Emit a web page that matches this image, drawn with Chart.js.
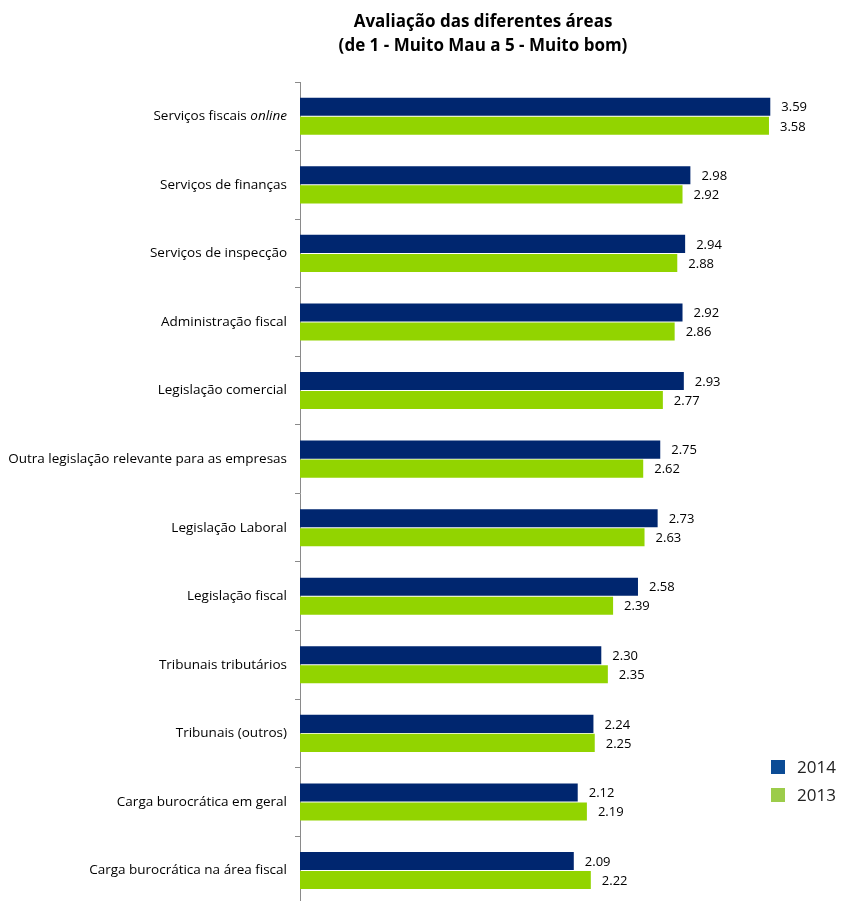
<!DOCTYPE html>
<html>
<head>
<meta charset="utf-8">
<script src="https://cdn.jsdelivr.net/npm/chart.js@4.4.1/dist/chart.umd.min.js"></script>
<style>
    html, body { margin: 0; padding: 0; background: #fff; overflow: hidden; }
    #wrap { position: relative; width: 841px; height: 901px; overflow: hidden; }
</style>
</head>
<body>
<div id="wrap"><canvas id="areas-chart"></canvas></div>
<script>
// data
const categories = [
    'Serviços fiscais online',
    'Serviços de finanças',
    'Serviços de inspecção',
    'Administração fiscal',
    'Legislação comercial',
    'Outra legislação relevante para as empresas',
    'Legislação Laboral',
    'Legislação fiscal',
    'Tribunais tributários',
    'Tribunais (outros)',
    'Carga burocrática em geral',
    'Carga burocrática na área fiscal'
];
const values2014 = [3.59, 2.98, 2.94, 2.92, 2.93, 2.75, 2.73, 2.58, 2.30, 2.24, 2.12, 2.09];
const values2013 = [3.58, 2.92, 2.88, 2.86, 2.77, 2.62, 2.63, 2.39, 2.35, 2.25, 2.19, 2.22];
const seriesNames = ['2014', '2013'];
const barColors = ['#00266f', '#92d400'];
const legendColors = ['#0b4b95', '#9ccc4a'];
const italicWords = ['online'];
const titleLines = ['Avaliação das diferentes áreas', '(de 1 - Muito Mau a 5 - Muito bom)'];

const FONT = '"Open Sans", "DejaVu Sans", sans-serif';

// category labels (with italic word), value labels, title, legend
const extrasPlugin = {
    id: 'extras',
    afterDraw(chart) {
        const ctx = chart.ctx;
        const yScale = chart.scales.y;
        ctx.save();

        // category labels
        ctx.fillStyle = '#000';
        ctx.textBaseline = 'middle';
        categories.forEach((label, i) => {
            const y = yScale.getPixelForValue(i);
            const words = label.split(' ');
            const parts = words.map((w, k) => ({
                text: (k ? ' ' : '') + w,
                font: (italicWords.includes(w) ? 'italic ' : '') + '13.5px ' + FONT
            }));
            let total = 0;
            parts.forEach(p => { ctx.font = p.font; p.w = ctx.measureText(p.text).width; total += p.w; });
            let x = yScale.right - 13 - total;
            ctx.textAlign = 'left';
            parts.forEach(p => { ctx.font = p.font; ctx.fillText(p.text, x, y); x += p.w; });
        });

        // value labels
        ctx.font = '13px ' + FONT;
        ctx.textAlign = 'left';
        chart.data.datasets.forEach((ds, di) => {
            const meta = chart.getDatasetMeta(di);
            meta.data.forEach((bar, i) => {
                ctx.fillText(ds.data[i].toFixed(2), bar.x + 11, bar.y + 1);
            });
        });

        // title
        ctx.font = 'bold 17px ' + FONT;
        ctx.textAlign = 'center';
        ctx.fillStyle = '#000';
        titleLines.forEach((t, i) => ctx.fillText(t, 483, 22 + i * 24));

        // legend
        ctx.font = '17px ' + FONT;
        ctx.textAlign = 'left';
        seriesNames.forEach((name, i) => {
            const top = 760 + i * 28;
            ctx.fillStyle = legendColors[i];
            ctx.fillRect(771, top, 14, 14);
            ctx.fillStyle = '#222';
            ctx.fillText(name, 797, top + 8);
        });

        ctx.restore();
    }
};

const config = {
    type: 'bar',
    data: {
        labels: categories,
        datasets: [
            {
                label: seriesNames[0],
                data: values2014,
                backgroundColor: barColors[0],
                barPercentage: 0.95,
                categoryPercentage: 0.555
            },
            {
                label: seriesNames[1],
                data: values2013,
                backgroundColor: barColors[1],
                barPercentage: 0.95,
                categoryPercentage: 0.555
            }
        ]
    },
    options: {
        indexAxis: 'y',
        responsive: false,
        animation: false,
        layout: {
            padding: {top: 82, right: 17, bottom: 0, left: 0}
        },
        plugins: {
            legend: {display: false},
            title: {display: false},
            tooltip: {enabled: false}
        },
        scales: {
            x: {
                display: false,
                min: 0,
                max: 4
            },
            y: {
                offset: true,
                border: {display: true, color: '#8a8a8a', width: 1},
                grid: {
                    display: true,
                    offset: true,
                    drawOnChartArea: false,
                    drawTicks: true,
                    tickLength: 5,
                    color: '#8a8a8a'
                },
                ticks: {
                    color: 'rgba(0,0,0,0)',
                    font: {family: FONT, size: 12}
                },
                afterFit(scale) {
                    scale.width = 300;
                }
            }
        }
    },
    plugins: [extrasPlugin]
};

const canvas = document.getElementById('areas-chart');
canvas.width = 841;
canvas.height = 915;
window.areasChart = new Chart(canvas.getContext('2d'), config);
</script>
</body>
</html>
